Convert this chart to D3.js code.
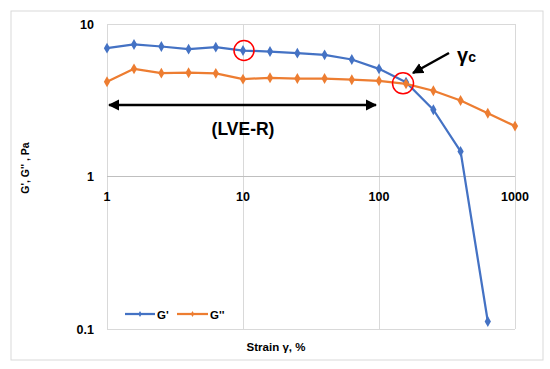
<!DOCTYPE html>
<html><head><meta charset="utf-8">
<script src="https://cdn.jsdelivr.net/npm/d3@7"></script>
<style>
html,body{margin:0;padding:0;background:#fff;}
svg text{font-family:"Liberation Sans",Arial,sans-serif;font-weight:bold;fill:#000;}
</style></head>
<body><svg id="c" width="550" height="369"></svg>
<script>
const strain = [1, 1.58, 2.51, 3.98, 6.31, 10, 15.8, 25.1, 39.8, 63.1, 100, 158, 251, 398, 631, 1000];
const gPrime = [6.94, 7.34, 7.12, 6.84, 7.05, 6.70, 6.60, 6.44, 6.28, 5.85, 5.08, 4.15, 2.74, 1.46, 0.112, null];
const gDouble = [4.18, 5.08, 4.76, 4.79, 4.75, 4.35, 4.44, 4.39, 4.39, 4.31, 4.24, 4.05, 3.65, 3.15, 2.60, 2.14];
const xTicks = [1, 10, 100, 1000];
const yTicks = [0.1, 1, 10];
const seriesNames = ["G'", "G''"];
const colors = ["#4472C4", "#ED7D31"];

const svg = d3.select("#c");
svg.append("rect").attr("x",11).attr("y",11).attr("width",532).attr("height",349)
  .attr("fill","#fff").attr("stroke","#d9d9d9").attr("stroke-width",1);

const x = d3.scaleLog().domain([1,1000]).range([107,515]);
const y = d3.scaleLog().domain([0.1,10]).range([329,24]);

// gridlines
const g = svg.append("g");
xTicks.forEach(t => g.append("line").attr("x1",x(t)).attr("x2",x(t)).attr("y1",y(10)).attr("y2",y(0.1))
  .attr("stroke","#d9d9d9").attr("stroke-width",1).attr("shape-rendering","crispEdges"));
yTicks.forEach(t => g.append("line").attr("x1",x(1)).attr("x2",x(1000)).attr("y1",y(t)).attr("y2",y(t))
  .attr("stroke", t===1 ? "#bfbfbf" : "#d9d9d9").attr("stroke-width",1).attr("shape-rendering","crispEdges"));

// y tick labels
yTicks.forEach(t => svg.append("text").attr("x",94).attr("y",y(t)+4.5).attr("text-anchor","end")
  .attr("font-size",12.5).text(t===0.1?"0.1":String(t)));
// x tick labels (axis crosses at 1)
xTicks.forEach(t => svg.append("text").attr("x",x(t)).attr("y",y(1)+24).attr("text-anchor","middle")
  .attr("font-size",12.5).text(String(t)));

// axis titles
svg.append("text").attr("transform","translate(29,168) rotate(-90)").attr("text-anchor","middle")
  .attr("font-size",10.5).text("G', G'' , Pa");
svg.append("text").attr("x",276).attr("y",351).attr("text-anchor","middle")
  .attr("font-size",11.5).text("Strain γ, %");

// series
const line = d3.line().defined(d => d[1] != null).x(d => x(d[0])).y(d => y(d[1]));
const diamond = d3.symbol().type(d3.symbolDiamond).size(34);
[gPrime, gDouble].forEach((vals, i) => {
  const pts = strain.map((s, j) => [s, vals[j]]);
  svg.append("path").attr("d", line(pts)).attr("fill","none").attr("stroke",colors[i])
    .attr("stroke-width",2.25).attr("stroke-linejoin","round");
  svg.selectAll(null).data(pts.filter(d => d[1] != null)).enter().append("path")
    .attr("d", diamond).attr("transform", d => `translate(${x(d[0])},${y(d[1])})`)
    .attr("fill", colors[i]);
});

// arrowhead marker
const defs = svg.append("defs");
defs.append("marker").attr("id","ah").attr("viewBox","0 0 10 10").attr("refX",9).attr("refY",5)
  .attr("markerWidth",4.5).attr("markerHeight",4.5).attr("orient","auto-start-reverse")
  .append("path").attr("d","M0,0 L10,5 L0,10 z").attr("fill","#000");

// LVE-R double arrow
svg.append("line").attr("x1",x(1)+2).attr("x2",x(100)-3).attr("y1",105).attr("y2",105)
  .attr("stroke","#000").attr("stroke-width",2.5)
  .attr("marker-start","url(#ah)").attr("marker-end","url(#ah)");
svg.append("text").attr("x",243).attr("y",135).attr("text-anchor","middle")
  .attr("font-size",17.5).text("(LVE-R)");

// red circles
svg.append("circle").attr("cx",x(10)+1).attr("cy",y(6.70)).attr("r",10)
  .attr("fill","none").attr("stroke","#ff0000").attr("stroke-width",1.5);
svg.append("circle").attr("cx",x(158)-3).attr("cy",y(4.08)).attr("r",10.5)
  .attr("fill","none").attr("stroke","#ff0000").attr("stroke-width",1.5);

// gamma_c arrow
svg.append("line").attr("x1",449).attr("y1",53).attr("x2",413).attr("y2",73)
  .attr("stroke","#000").attr("stroke-width",2.5).attr("marker-end","url(#ah)");
const gt = svg.append("text").attr("x",457).attr("y",62).attr("font-size",20);
gt.append("tspan").text("γ");
gt.append("tspan").attr("font-size",14).text("c");

// legend
const lg = [[125,155,157],[177,208,210]];
lg.forEach((p,i) => {
  svg.append("line").attr("x1",p[0]).attr("x2",p[1]).attr("y1",314).attr("y2",314)
    .attr("stroke",colors[i]).attr("stroke-width",2.25);
  svg.append("path").attr("d", d3.symbol().type(d3.symbolDiamond).size(10))
    .attr("transform",`translate(${(p[0]+p[1])/2},314)`).attr("fill",colors[i]);
  svg.append("text").attr("x",p[2]).attr("y",318.5).attr("font-size",11.5).text(seriesNames[i]);
});
</script></body></html>
